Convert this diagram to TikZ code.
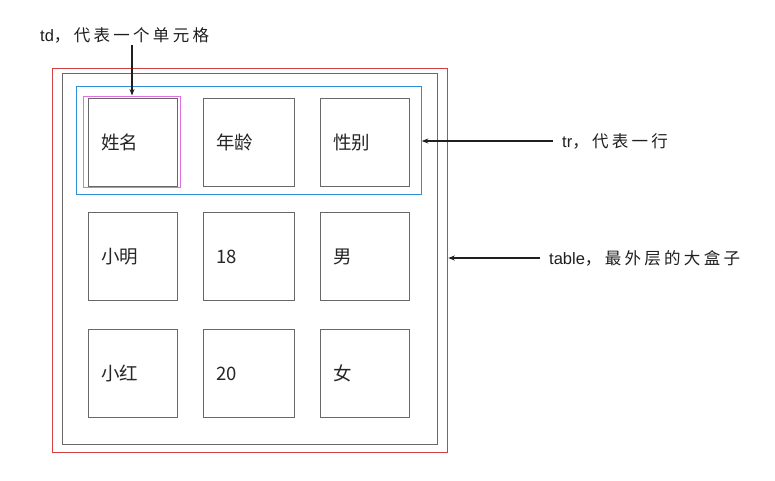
\documentclass[tikz,border=0pt]{standalone}
\usepackage{fontspec}
\usetikzlibrary{arrows.meta}
\newfontfamily\latf{Liberation Sans}
\newfontfamily\cjkA[LetterSpace=20]{Noto Sans CJK SC}
\newfontfamily\cjkB{Noto Sans CJK SC}
\definecolor{tred}{HTML}{D04040}
\definecolor{tblue}{HTML}{2E8FD8}
\definecolor{tpink}{HTML}{E070E8}
\definecolor{tgray}{HTML}{686868}
\begin{document}
\begin{tikzpicture}[x=1pt,y=-1pt,
  box/.style={draw, line width=1.3pt, inner sep=0pt, anchor=north west},
  cell/.style={box, draw=tgray, minimum width=89pt, minimum height=88pt},
  celltext/.style={anchor=west, inner sep=0pt, font=\cjkB\fontsize{18.5}{18}\selectfont, text=black!85},
  annot/.style={anchor=west, inner sep=0pt, font=\fontsize{16.5}{17}\selectfont, text=black!88},
  arr/.style={-{Stealth[length=6.5pt,width=5pt]}, line width=1.1pt, black!88}]
\useasboundingbox (0,0) rectangle (775,480);
\fill[white] (0,0) rectangle (775,480);
% outer boxes
\node[box, draw=tred, minimum width=395pt, minimum height=384pt] (table) at (52,67.5) {};
\node[box, draw=tgray, minimum width=375pt, minimum height=371pt] (inner) at (61.5,73) {};
\node[box, draw=tblue, minimum width=345pt, minimum height=108pt] (tr) at (75.5,86) {};
\node[box, draw=tpink, minimum width=97pt, minimum height=91pt] (td) at (83,95.5) {};
% cells
\foreach \r/\y in {1/98,2/212,3/329}{
  \foreach \c/\x in {1/88,2/203,3/320}{
    \node[cell, minimum width={(\c==2 ? 91 : 89)*1pt}] (c\r\c) at (\x,\y) {};
  }
}
\node[celltext] (t11) at ([xshift=13pt]c11.west) {姓名};
\node[celltext] (t12) at ([xshift=13pt]c12.west) {年龄};
\node[celltext] (t13) at ([xshift=13pt]c13.west) {性别};
\node[celltext] (t21) at ([xshift=13pt]c21.west) {小明};
\node[celltext] (t22) at ([xshift=13pt]c22.west) {18};
\node[celltext] (t23) at ([xshift=13pt]c23.west) {男};
\node[celltext] (t31) at ([xshift=13pt]c31.west) {小红};
\node[celltext] (t32) at ([xshift=13pt]c32.west) {20};
\node[celltext] (t33) at ([xshift=13pt]c33.west) {女};
% annotations
\node[annot] (atd) at (40,35) {{\latf td}{\cjkA ，代表一个单元格}};
\node[annot] (atr) at (562,141) {{\latf tr}{\cjkA ，代表一行}};
\node[annot] (atable) at (549,258) {{\latf table}{\cjkA ，最外层的大盒子}};
\coordinate (ptd) at (132,45);
\coordinate (ptr) at (553,141);
\coordinate (ptable) at (540,258);
\draw[arr] (ptd) -- (ptd |- td.north);
\draw[arr] (ptr) -- (ptr -| tr.east);
\draw[arr] (ptable) -- (ptable -| table.east);
\end{tikzpicture}
\end{document}
